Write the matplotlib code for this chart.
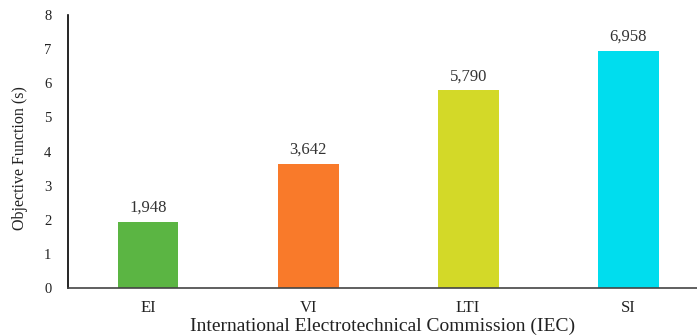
import matplotlib
matplotlib.use('Agg')
import matplotlib.pyplot as plt

# Objective function per IEC curve type
categories = ['EI', 'VI', 'LTI', 'SI']
values = [1.948, 3.642, 5.790, 6.958]
bar_colors = ['#5BB543', '#F97A2A', '#D3D928', '#00DDEE']

plt.rcParams['font.family'] = ['Liberation Serif', 'DejaVu Serif']

fig = plt.figure(figsize=(6.97, 3.36), dpi=100)
ax = fig.add_axes([0.0976, 0.143, 0.9024, 0.812])

x = range(len(categories))
bars = ax.bar(x, values, width=0.38, color=bar_colors)

for bar, val in zip(bars, values):
    label = f'{val:.3f}'.replace('.', ',')
    ax.text(bar.get_x() + bar.get_width() / 2, bar.get_height() + 0.17,
            label, ha='center', va='bottom', fontsize=12, color='#333333')

ax.set_xlim(-0.5, 3.43)
ax.set_ylim(0, 8)
ax.set_yticks(range(0, 9))
ax.set_xticks(list(x))
ax.set_xticklabels(categories)

ax.spines['top'].set_visible(False)
ax.spines['right'].set_visible(False)
ax.spines['left'].set_color('#000000')
ax.spines['bottom'].set_color('#444444')
ax.spines['left'].set_linewidth(1.2)
ax.spines['bottom'].set_linewidth(1.2)

ax.tick_params(axis='y', length=0, pad=12, labelsize=10.5, colors='#222222')
ax.tick_params(axis='x', length=0, pad=9, labelsize=12, colors='#222222')

ax.set_ylabel('Objective Function (s)', fontsize=11.5, color='#222222')
ax.yaxis.set_label_coords(-0.064, 0.475)
ax.set_xlabel('International Electrotechnical Commission (IEC)', fontsize=14,
              color='#222222', labelpad=1)

plt.savefig('out.png', dpi=100)
